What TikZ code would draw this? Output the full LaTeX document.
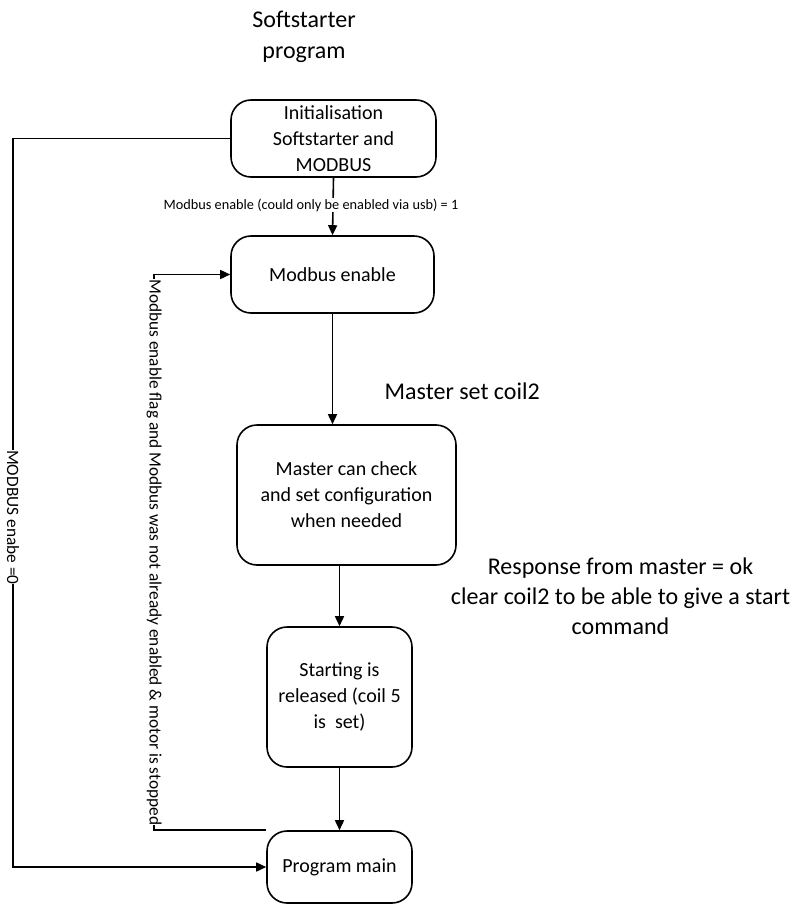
\documentclass[tikz,border=0pt]{standalone}
\usepackage{fontspec}
\setmainfont{Carlito}
\usepackage{tikz}
\usetikzlibrary{arrows.meta}

\begin{document}
\begin{tikzpicture}[x=1pt, y=-1pt, line width=1.6pt,
        box/.style={draw, rounded corners=20pt, align=center, inner sep=0pt,
            font=\fontsize{20}{26}\selectfont},
        arr/.style={-{Triangle[length=10pt, width=9pt]}},
        lbl/.style={fill=white, inner sep=1pt, font=\fontsize{14.3}{17}\selectfont},
        side/.style={fill=white, inner sep=0pt, rotate=-90, font=\fontsize{17.3}{20}\selectfont},
        big/.style={align=center, font=\fontsize{24}{31}\selectfont}]
        \useasboundingbox (0,0) rectangle (798,904);

        \node[big] (title) at (304, 36.5) {Softstarter\\program};

        \node[box, minimum width=205pt, minimum height=77pt] (init) at (333.5, 138.5) {Initialisation\\Softstarter and\\MODBUS};
        \node[box, minimum width=203pt, minimum height=77pt] (modbus) at (332.5, 274.5) {Modbus enable};
        \node[box, minimum width=219pt, minimum height=140pt] (master) at (346.5, 495) {Master can check\\and set configuration\\when needed};
        \node[box, minimum width=145pt, minimum height=140pt] (start) at (339.5, 697) {Starting is\\released (coil 5\\is\ \ set)};
        \node[box, minimum width=145pt, minimum height=72pt] (main) at (339.5, 867) {Program main};

        \draw[arr] (init.south) -- node[lbl, xshift=-22pt, yshift=1.5pt]{Modbus enable (could only be enabled via usb) = 1} (modbus.north);
        \draw[arr] (modbus.south) -- node[big, pos=0.7, anchor=west, xshift=48pt]{Master set coil2} (modbus.south |- master.north);
        \draw[arr] (start.north |- master.south) -- node[big, xshift=281pt, font=\fontsize{24}{30}\selectfont]{Response from master = ok\\clear coil2 to be able to give a start\\command} (start.north);
        \draw[arr] (start.south) -- (main.north);

        \draw[arr] (main.north west) -- ++(-112,0) |- node[side, pos=0.25]{Modbus enable flag and Modbus was not already enabled \& motor is stopped} (modbus.west);
        \draw[arr] (init.west) -- (13, 138.5) |- node[side, pos=0.26]{MODBUS enabe =0} (main.west);
    \end{tikzpicture}
\end{document}
